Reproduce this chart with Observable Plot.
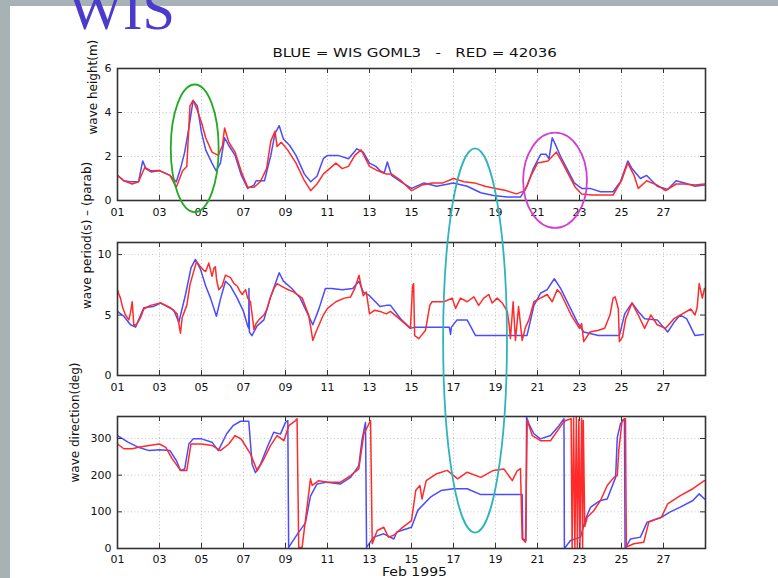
<!DOCTYPE html>
<html><head><meta charset="utf-8">
<script src="https://cdn.jsdelivr.net/npm/d3@7"></script>
<script src="https://cdn.jsdelivr.net/npm/@observablehq/plot@0.6"></script>
<style>
html,body{margin:0;padding:0;background:#a7b2b6;}
#page{position:relative;width:778px;height:578px;overflow:hidden;background:#a7b2b6;}
#sheet{position:absolute;left:10px;top:6px;width:768px;height:572px;background:#fff;}
.panel{position:absolute;left:0;}
#overlay{position:absolute;left:0;top:0;pointer-events:none;}
</style></head>
<body><div id="page"><div id="sheet"></div></div>
<script>
// ---------- data (day of Feb 1995, value) ----------
const dayTicks = [1,3,5,7,9,11,13,15,17,19,21,23,25,27];
const heightTicks = [0,2,4,6];
const periodTicks = [0,5,10];
const directionTicks = [0,100,200,300];

const wisHeight = [[1.0,1.14],[1.3,0.9],[1.6,0.85],[2.0,0.85],[2.2,1.8],[2.35,1.45],[2.6,1.3],[3.0,1.36],[3.5,1.14],[3.8,0.85],[4.0,1.45],[4.2,2.2],[4.4,3.3],[4.6,4.55],[4.8,4.3],[5.0,3.1],[5.2,2.3],[5.5,1.7],[5.7,1.35],[5.9,1.7],[6.1,2.85],[6.3,2.5],[6.6,2.05],[6.9,1.14],[7.2,0.55],[7.5,0.7],[7.6,0.9],[8.0,0.9],[8.3,2.05],[8.5,3.05],[8.7,3.4],[8.9,2.8],[9.2,2.5],[9.5,2.05],[9.9,1.2],[10.2,0.85],[10.5,1.1],[10.8,1.9],[11.0,2.05],[11.5,2.05],[12.0,1.9],[12.4,2.35],[12.7,2.2],[13.0,1.7],[13.3,1.55],[13.5,1.36],[13.7,1.25],[13.85,1.75],[14.05,1.14],[14.5,0.85],[15.0,0.55],[15.6,0.8],[16.2,0.65],[17.0,0.8],[17.65,0.65],[18.3,0.35],[18.9,0.23],[19.55,0.16],[20.2,0.16],[20.5,0.65],[20.8,1.45],[21.15,2.1],[21.4,2.1],[21.55,1.9],[21.7,2.85],[21.85,2.55],[22.1,2.0],[22.4,1.45],[22.75,0.8],[23.1,0.55],[23.5,0.55],[24.0,0.4],[24.6,0.4],[24.95,0.85],[25.3,1.8],[25.5,1.45],[25.9,1.0],[26.2,1.14],[26.7,0.65],[27.2,0.5],[27.6,0.9],[28.0,0.8],[28.5,0.65],[28.95,0.7]];
const buoyHeight = [[1.0,1.14],[1.3,0.9],[1.7,0.75],[2.0,0.85],[2.3,1.5],[2.6,1.35],[3.0,1.36],[3.5,1.14],[3.8,0.6],[3.9,0.85],[4.1,1.35],[4.3,1.55],[4.45,4.3],[4.6,4.55],[4.8,4.1],[5.0,3.55],[5.2,2.85],[5.5,2.2],[5.8,2.05],[6.0,2.5],[6.1,3.3],[6.3,2.65],[6.6,2.2],[6.9,1.3],[7.2,0.6],[7.5,0.6],[7.8,0.85],[8.1,1.45],[8.3,2.7],[8.5,3.15],[8.6,2.45],[8.8,2.65],[9.1,2.3],[9.5,1.7],[9.9,0.9],[10.2,0.45],[10.5,0.75],[10.8,1.2],[11.1,1.45],[11.4,1.7],[11.7,1.45],[12.0,1.55],[12.3,2.05],[12.6,2.3],[13.0,1.55],[13.4,1.35],[13.8,1.2],[14.06,1.2],[14.5,0.9],[15.0,0.45],[15.5,0.7],[16.0,0.8],[16.5,0.8],[17.0,1.0],[17.5,0.85],[18.0,0.8],[18.5,0.65],[19.0,0.55],[19.5,0.45],[20.0,0.3],[20.4,0.45],[20.7,1.14],[21.0,1.7],[21.5,1.8],[21.9,2.2],[22.2,1.7],[22.5,1.14],[22.8,0.6],[23.1,0.3],[23.6,0.25],[24.0,0.25],[24.6,0.25],[25.0,0.9],[25.3,1.7],[25.6,1.14],[25.8,0.55],[26.2,0.9],[26.7,0.7],[27.1,0.45],[27.6,0.75],[28.0,0.75],[28.5,0.7],[28.95,0.75]];

const wisPeriod = [[1.0,5.3],[1.3,4.9],[1.62,4.2],[1.86,4.0],[2.25,5.6],[2.7,5.7],[3.05,6.0],[3.68,5.4],[3.92,4.4],[4.24,6.7],[4.5,8.9],[4.71,9.6],[4.95,8.8],[5.2,7.4],[5.43,6.4],[5.71,4.9],[5.9,6.3],[6.14,7.8],[6.38,7.4],[6.7,6.4],[7.0,5.3],[7.2,4.1],[7.25,3.9],[7.26,7.2],[7.28,3.6],[7.4,3.3],[7.65,4.1],[7.97,4.6],[8.29,6.5],[8.7,8.5],[8.9,7.8],[9.3,7.2],[9.7,6.4],[10.0,5.3],[10.3,4.2],[10.6,5.55],[10.9,7.2],[11.2,7.2],[11.7,7.1],[12.2,7.2],[12.5,7.8],[12.7,6.9],[13.0,6.6],[13.5,5.7],[13.8,5.8],[14.0,5.8],[14.48,4.7],[14.95,3.9],[15.19,4.0],[16.8,4.0],[16.86,3.4],[16.9,4.0],[17.17,4.6],[17.65,4.6],[18.05,3.3],[20.5,3.3],[20.83,5.8],[21.14,6.8],[21.46,7.1],[21.8,8.0],[22.1,7.2],[22.5,5.8],[22.9,4.4],[23.2,3.6],[23.9,3.3],[24.9,3.3],[25.15,5.1],[25.5,6.0],[25.8,5.3],[26.1,4.7],[26.7,4.6],[27.2,3.6],[27.5,4.4],[27.8,5.0],[28.1,4.7],[28.5,3.3],[28.9,3.4]];
const buoyPeriod = [[1.0,7.1],[1.05,6.8],[1.14,6.4],[1.25,5.6],[1.38,5.0],[1.54,4.6],[1.62,5.2],[1.7,6.1],[1.78,4.1],[1.94,4.3],[2.1,4.8],[2.25,5.5],[2.57,5.8],[3.05,6.0],[3.52,5.6],[3.84,5.1],[3.97,3.8],[4.0,3.5],[4.08,4.8],[4.3,5.8],[4.45,7.5],[4.56,8.2],[4.76,9.4],[4.95,9.0],[5.1,8.7],[5.2,8.6],[5.35,9.3],[5.5,8.2],[5.6,8.9],[5.66,9.0],[5.72,7.9],[5.82,7.1],[5.98,7.4],[6.14,8.3],[6.38,8.1],[6.55,7.6],[6.7,7.4],[6.82,7.0],[6.94,6.7],[7.1,7.1],[7.2,6.4],[7.33,6.1],[7.42,4.9],[7.5,3.8],[7.6,4.3],[7.73,4.6],[7.97,5.0],[8.1,5.4],[8.29,6.5],[8.45,7.2],[8.6,7.6],[8.8,7.4],[9.0,7.2],[9.4,6.9],[9.8,6.4],[10.1,5.0],[10.2,4.0],[10.3,2.9],[10.45,3.6],[10.6,4.2],[10.8,5.0],[11.0,5.55],[11.4,6.1],[11.8,6.4],[12.1,6.5],[12.3,7.2],[12.5,8.3],[12.6,7.4],[12.7,6.6],[12.85,6.9],[13.0,5.1],[13.25,5.4],[13.5,5.3],[13.8,5.1],[14.0,5.3],[14.48,4.6],[14.95,3.9],[15.05,7.4],[15.1,7.6],[15.15,3.3],[15.35,3.05],[15.67,3.75],[15.87,5.8],[15.98,6.1],[16.54,6.1],[16.94,6.4],[17.1,5.55],[17.33,6.4],[17.65,6.1],[17.97,6.5],[18.2,5.8],[18.44,6.4],[18.68,6.7],[18.84,6.0],[19.08,6.4],[19.32,6.0],[19.56,5.3],[19.65,4.2],[19.71,3.05],[19.84,6.1],[19.95,2.9],[20.1,5.7],[20.27,2.9],[20.43,4.0],[20.59,4.6],[20.83,6.1],[21.14,6.4],[21.46,6.7],[21.7,6.1],[21.94,7.1],[22.1,6.8],[22.3,6.1],[22.6,5.0],[23.0,3.9],[23.1,4.3],[23.2,2.8],[23.5,3.6],[23.9,3.75],[24.2,3.9],[24.45,5.0],[24.6,6.4],[24.7,6.5],[24.85,5.5],[24.9,2.8],[25.05,3.2],[25.2,4.7],[25.5,6.0],[25.8,5.0],[26.1,3.9],[26.4,5.0],[26.7,4.2],[27.1,3.9],[27.5,4.7],[27.9,5.1],[28.3,5.5],[28.5,5.0],[28.6,5.6],[28.7,7.6],[28.85,6.4],[28.95,7.2]];

const wisDirection = [[1.0,308],[1.5,290],[2.0,276],[2.5,267],[3.0,269],[3.5,267],[3.8,240],[4.0,213],[4.2,217],[4.4,285],[4.6,299],[5.0,299],[5.5,290],[5.8,267],[6.2,313],[6.5,335],[6.86,347],[7.25,347],[7.41,230],[7.57,207],[7.81,230],[8.13,276],[8.44,317],[8.76,312],[9.0,344],[9.11,349],[9.15,3],[9.55,38],[9.95,70],[10.19,143],[10.5,176],[10.98,181],[11.62,176],[12.1,194],[12.49,226],[12.65,299],[12.81,344],[12.86,3],[13.2,31],[13.68,40],[14.16,26],[14.3,45],[15.0,58],[15.3,104],[15.9,140],[16.4,158],[17.0,163],[17.65,163],[18.3,147],[20.27,147],[20.3,26],[20.45,22],[20.48,358],[20.59,340],[20.83,313],[21.14,299],[21.62,308],[22.02,335],[22.26,354],[22.28,0],[22.57,22],[23.05,31],[23.29,81],[23.53,113],[24.0,131],[24.32,135],[24.72,194],[24.8,303],[24.95,340],[25.14,354],[25.17,0],[25.43,26],[25.9,31],[26.22,72],[26.9,85],[27.3,99],[27.8,113],[28.4,131],[28.7,149],[28.95,135]];
const buoyDirection = [[1.0,285],[1.3,272],[1.7,272],[2.0,276],[2.5,281],[3.0,285],[3.3,276],[3.6,245],[4.0,213],[4.3,213],[4.5,285],[5.0,285],[5.5,281],[5.9,267],[6.3,285],[6.6,308],[6.9,298],[7.33,258],[7.65,212],[7.97,244],[8.28,280],[8.6,308],[8.92,294],[9.16,335],[9.48,349],[9.55,354],[9.63,3],[9.79,3],[10.19,190],[10.27,172],[10.58,185],[10.98,181],[11.62,181],[12.1,199],[12.49,217],[12.73,312],[13.05,349],[13.13,13],[13.37,49],[13.68,58],[13.9,31],[14.16,36],[14.5,54],[15.0,76],[15.2,158],[15.4,172],[15.5,135],[15.7,185],[16.2,204],[16.7,213],[17.2,190],[17.65,208],[18.3,194],[18.9,213],[19.4,217],[19.8,185],[20.03,212],[20.19,218],[20.27,26],[20.43,17],[20.51,349],[20.6,335],[20.75,308],[21.14,294],[21.62,294],[22.18,340],[22.34,349],[22.6,354],[22.65,0],[22.72,356],[22.78,2],[22.85,358],[22.9,0],[22.97,352],[23.02,3],[23.1,355],[23.15,0],[23.18,349],[23.25,60],[23.37,85],[23.68,103],[24.0,131],[24.32,172],[24.64,194],[24.8,199],[24.87,267],[25.03,349],[25.19,354],[25.23,4],[25.59,13],[26.06,17],[26.3,72],[26.9,85],[27.2,122],[27.8,144],[28.4,163],[28.95,185]];

// annotation ellipses: centre day, half-width in days, vertical extent in panel values
const greenMark = {day: 4.7, rDays: 1.14, top: 5.25, bottom: -0.55, color: "#22aa22"};
const magentaMark = {day: 21.86, rDays: 1.52, top: 3.06, bottom: -1.27, color: "#d23fd2"};
const cyanMark = {day: 18.05, rDays: 1.52, topHeight: 2.35, bottomDirection: 42, color: "#2fb4bd"};

const BLUE = "#4b4bff", RED = "#ff2b2b";

// ---------- panels ----------
const page = document.getElementById("page");
function panel({top, frameH, yDomain, yTicks, label, labelDx, blue, red, pad}) {
  const mt = 20, mb = 24, plotW = 778 - 117 - 73;
  const p = Plot.plot({
    width: 778, height: mt + frameH + mb,
    marginLeft: 117, marginRight: 73, marginTop: mt, marginBottom: mb,
    style: {background: "transparent", fontFamily: "DejaVu Sans, sans-serif", fontSize: "11px", color: "#111", overflow: "visible"},
    x: {domain: [1, 29], ticks: dayTicks, tickFormat: d => String(d).padStart(2, "0"), tickSize: 0, tickPadding: pad, label: null},
    y: {domain: yDomain, ticks: yTicks, tickFormat: d => String(d), tickSize: 0, tickPadding: 6, label: null},
    marks: [
      Plot.ruleX(dayTicks, {x: d => d, stroke: "#c4c4c4", strokeDasharray: "1,2.5"}),
      Plot.ruleY(yTicks, {y: d => d, stroke: "#c4c4c4", strokeDasharray: "1,2.5"}),
      Plot.line(blue, {x: d => d[0], y: d => d[1], stroke: BLUE, strokeWidth: 1.5, clip: true}),
      Plot.line(red, {x: d => d[0], y: d => d[1], stroke: RED, strokeWidth: 1.5, clip: true}),
      Plot.tickX(dayTicks, {x: d => d, insetTop: frameH - 5, stroke: "#333"}),
      Plot.tickX(dayTicks, {x: d => d, insetBottom: frameH - 5, stroke: "#333"}),
      Plot.tickY(yTicks, {y: d => d, insetRight: plotW - 5, stroke: "#333"}),
      Plot.tickY(yTicks, {y: d => d, insetLeft: plotW - 5, stroke: "#333"}),
      Plot.frame({stroke: "#333", strokeWidth: 1.6}),
      Plot.text([label], {frameAnchor: "left", text: d => d, rotate: -90, dx: labelDx, fontSize: 12, fill: "#111"})
    ]
  });
  p.classList.add("panel");
  p.style.top = top + "px";
  page.appendChild(p);
  return {p, top};
}

const P1 = panel({top: 48, frameH: 132, yDomain: [0, 6], yTicks: heightTicks, label: "wave height(m)", labelDx: -24, blue: wisHeight, red: buoyHeight, pad: 8});
const P2 = panel({top: 222, frameH: 133, yDomain: [0, 11], yTicks: periodTicks, label: "wave period(s) – (parab)", labelDx: -30, blue: wisPeriod, red: buoyPeriod, pad: 8});
const P3 = panel({top: 396, frameH: 132, yDomain: [0, 360], yTicks: directionTicks, label: "wave direction(deg)", labelDx: -42, blue: wisDirection, red: buoyDirection, pad: 7});

// ---------- overlay: texts and ellipses positioned through the panels' scales ----------
const X = v => P1.p.scale("x").apply(v);
const Y1 = v => P1.p.scale("y").apply(v) + P1.top;
const Y3 = v => P3.p.scale("y").apply(v) + P3.top;
function ell(cx, rx, yTop, yBot, color) {
  return `<ellipse cx="${cx}" cy="${(yTop + yBot) / 2}" rx="${rx}" ry="${(yBot - yTop) / 2}" fill="none" stroke="${color}" stroke-width="1.8"/>`;
}
const rx = d => X(1 + d) - X(1);
const titleX0 = X(8.4), titleX1 = X(21.95);
const overlay = `<svg id="overlay" width="778" height="578" xmlns="http://www.w3.org/2000/svg">
 <text x="68" y="29" font-family="Liberation Serif, Times New Roman, serif" font-size="58" fill="#4b3bcc" textLength="107" lengthAdjust="spacingAndGlyphs">WIS</text>
 <text x="${titleX0}" y="56.5" font-family="DejaVu Sans, sans-serif" font-size="12.5" fill="#111" textLength="${titleX1 - titleX0}" lengthAdjust="spacingAndGlyphs" xml:space="preserve">BLUE = WIS GOML3   -   RED = 42036</text>
 <text x="382" y="575.5" font-family="DejaVu Sans, sans-serif" font-size="12" fill="#111" textLength="65" lengthAdjust="spacingAndGlyphs">Feb 1995</text>
 ${ell(X(greenMark.day), rx(greenMark.rDays), Y1(greenMark.top), Y1(greenMark.bottom), greenMark.color)}
 ${ell(X(magentaMark.day), rx(magentaMark.rDays), Y1(magentaMark.top), Y1(magentaMark.bottom), magentaMark.color)}
 ${ell(X(cyanMark.day), rx(cyanMark.rDays), Y1(cyanMark.topHeight), Y3(cyanMark.bottomDirection), cyanMark.color)}
</svg>`;
page.insertAdjacentHTML("beforeend", overlay);
</script>
</body></html>
